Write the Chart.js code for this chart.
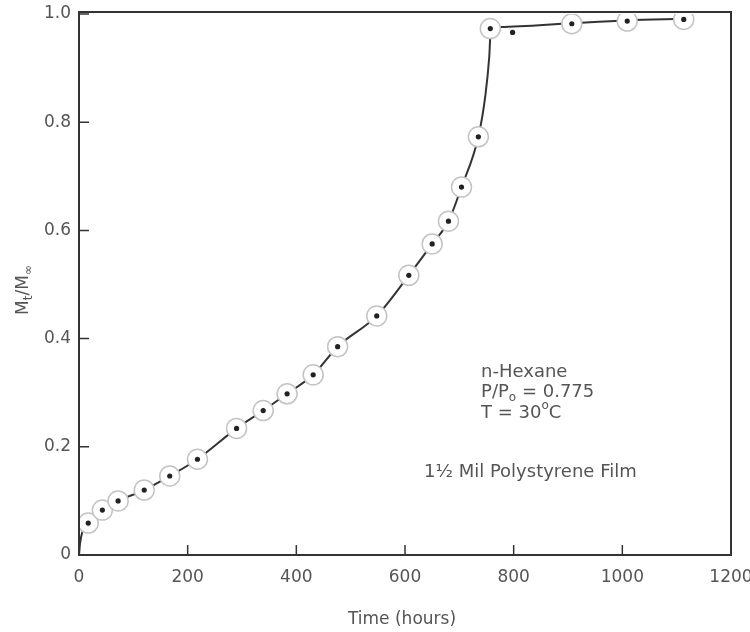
<!DOCTYPE html>
<html>
<head>
<meta charset="utf-8">
<script src="https://cdn.jsdelivr.net/npm/chart.js@4"></script>
<style>
  html, body { margin: 0; padding: 0; background: #fff; }
  #wrap { width: 750px; height: 632px; }
</style>
</head>
<body>
<div id="wrap"><canvas id="chart" width="750" height="632"></canvas></div>
<script>
// measured points (hours, Mt/Minf)
var timeHours = [17, 43, 72, 120, 167, 218, 290, 339, 383, 431, 476, 548, 607, 650, 680, 704, 735, 757, 907, 1009, 1113];
var uptake = [0.059, 0.083, 0.100, 0.120, 0.146, 0.177, 0.234, 0.267, 0.298, 0.333, 0.385, 0.442, 0.517, 0.575, 0.617, 0.680, 0.773, 0.973, 0.982, 0.987, 0.990];

// the single uncircled point
var looseTime = [798];
var looseUptake = [0.966];

// drawn curve
var curveTime = [0, 2, 6, 17, 43, 72, 120, 167, 218, 290, 339, 383, 431, 476, 548, 607, 650, 680, 704, 735, 748, 755, 758, 775, 907, 1009, 1113];
var curveUptake = [0, 0.022, 0.042, 0.059, 0.083, 0.100, 0.120, 0.146, 0.177, 0.234, 0.267, 0.298, 0.333, 0.385, 0.442, 0.517, 0.575, 0.617, 0.680, 0.773, 0.850, 0.920, 0.972, 0.976, 0.983, 0.988, 0.991];

var xTicks = [0, 200, 400, 600, 800, 1000, 1200];
var yTicks = [0, 0.2, 0.4, 0.6, 0.8, 1.0];

function toXY(xs, ys) {
    return xs.map(function (x, i) { return { x: x, y: ys[i] }; });
}

var textColor = '#555';
var fontFamily = '"DejaVu Sans", sans-serif';

// frame, inward ticks, titles and notes
var decorPlugin = {
    id: 'decor',
    afterDraw: function (chart) {
        var ctx = chart.ctx;
        var a = chart.chartArea;
        var xs = chart.scales.x;
        var ys = chart.scales.y;

        ctx.save();
        ctx.strokeStyle = '#333';
        ctx.lineWidth = 2;
        ctx.strokeRect(a.left, a.top - 2, a.right - a.left, a.bottom - a.top + 2);

        ctx.lineWidth = 1.5;
        ctx.beginPath();
        xTicks.forEach(function (t) {
            if (t === 0 || t === 1200) return;
            var px = xs.getPixelForValue(t);
            ctx.moveTo(px, a.bottom);
            ctx.lineTo(px, a.bottom - 10);
        });
        yTicks.forEach(function (t) {
            if (t === 0) return;
            var py = ys.getPixelForValue(t);
            ctx.moveTo(a.left, py);
            ctx.lineTo(a.left + 10, py);
        });
        ctx.stroke();

        ctx.fillStyle = textColor;
        ctx.textBaseline = 'middle';

        // x title
        ctx.font = '17px ' + fontFamily;
        ctx.textAlign = 'center';
        ctx.fillText('Time (hours)', 402, 620);

        // y title with subscripts
        var big = '17px ' + fontFamily;
        var small = '12px ' + fontFamily;
        ctx.save();
        ctx.translate(24, 290);
        ctx.rotate(-Math.PI / 2);
        ctx.textAlign = 'left';
        var parts = [['M', big, 0], ['t', small, 5], ['/M', big, 0], ['\u221E', small, 5]];
        var w = 0;
        parts.forEach(function (p) { ctx.font = p[1]; w += ctx.measureText(p[0]).width; });
        var cx = -w / 2;
        parts.forEach(function (p) {
            ctx.font = p[1];
            ctx.fillText(p[0], cx, p[2]);
            cx += ctx.measureText(p[0]).width;
        });
        ctx.restore();

        // notes
        ctx.textAlign = 'left';
        var note = '18px ' + fontFamily;
        var noteSmall = '12px ' + fontFamily;
        function runs(list, x, y) {
            list.forEach(function (p) {
                ctx.font = p[1];
                ctx.fillText(p[0], x, y + p[2]);
                x += ctx.measureText(p[0]).width;
            });
        }
        var nx = xs.getPixelForValue(740);
        runs([['n-Hexane', note, 0]], nx, 372);
        runs([['P/P', note, 0], ['o', noteSmall, 6], [' = 0.775', note, 0]], nx, 392);
        runs([['T = 30', note, 0], ['o', noteSmall, -7], ['C', note, 0]], nx, 413);
        runs([['1\u00BD Mil Polystyrene Film', note, 0]], xs.getPixelForValue(635), 472);

        ctx.restore();
    }
};

var chart = new Chart(document.getElementById('chart').getContext('2d'), {
    type: 'scatter',
    data: {
        datasets: [
            {
                label: 'dots',
                data: toXY(timeHours, uptake).concat(toXY(looseTime, looseUptake)),
                pointRadius: 2.6,
                pointBackgroundColor: '#222',
                pointBorderWidth: 0,
                showLine: false,
                order: 0
            },
            {
                label: 'circles',
                data: toXY(timeHours, uptake),
                pointRadius: 10,
                pointBackgroundColor: '#fff',
                pointBorderColor: '#c4c4c4',
                pointBorderWidth: 1.5,
                showLine: false,
                order: 1
            },
            {
                label: 'curve',
                data: toXY(curveTime, curveUptake),
                showLine: true,
                borderColor: '#333',
                borderWidth: 2,
                pointRadius: 0,
                cubicInterpolationMode: 'monotone',
                fill: false,
                order: 2
            }
        ]
    },
    options: {
        responsive: false,
        animation: false,
        events: [],
        layout: { padding: { top: 14, right: 19, left: 0, bottom: 0 } },
        plugins: {
            legend: { display: false },
            tooltip: { enabled: false },
            title: { display: false }
        },
        scales: {
            x: {
                type: 'linear',
                min: 0,
                max: 1200,
                afterFit: function (s) {
                    s.height = 77;
                    s.paddingLeft = 0;
                    s.paddingRight = 0;
                },
                afterBuildTicks: function (s) { s.ticks = xTicks.map(function (v) { return { value: v }; }); },
                grid: { display: false, drawTicks: false },
                border: { display: false },
                ticks: {
                    color: textColor,
                    font: { family: fontFamily, size: 17 },
                    padding: 12,
                    maxRotation: 0,
                    callback: function (v) { return String(v); }
                }
            },
            y: {
                type: 'linear',
                min: 0,
                max: 1.0,
                afterFit: function (s) {
                    s.width = 79;
                    s.paddingTop = 0;
                    s.paddingBottom = 0;
                },
                afterBuildTicks: function (s) { s.ticks = yTicks.map(function (v) { return { value: v }; }); },
                grid: { display: false, drawTicks: false },
                border: { display: false },
                ticks: {
                    color: textColor,
                    font: { family: fontFamily, size: 17 },
                    padding: 8,
                    callback: function (v) { return v === 0 ? '0' : v.toFixed(1); }
                }
            }
        }
    },
    plugins: [decorPlugin]
});
</script>
</body>
</html>
